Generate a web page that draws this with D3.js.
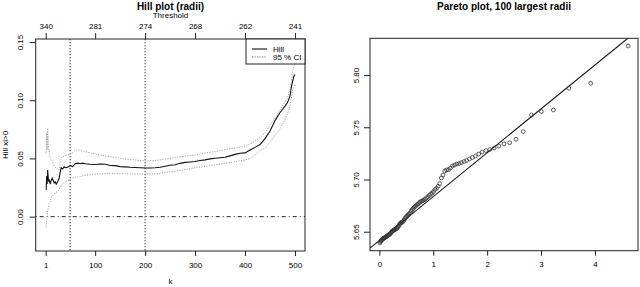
<!DOCTYPE html>
<html>
<head>
<meta charset="utf-8">
<script src="https://cdn.jsdelivr.net/npm/d3@7"></script>
<style>
  body { margin: 0; background: #fff; }
  svg text { font-family: "Liberation Sans", Arial, sans-serif; fill: #000; }
</style>
</head>
<body>
<svg id="chart" width="640" height="287"></svg>
<script>
/* global d3 */

// ---- Hill plot data ----
const hillK = [2, 3, 4, 5, 6, 7, 8, 10, 12, 14, 16, 18, 20, 22, 25, 28, 30, 32, 35, 38, 40,
  45, 50, 55, 60, 65, 70, 75, 80, 90, 100, 110, 120, 130, 140, 150, 160, 170, 180, 190,
  200, 210, 220, 230, 240, 250, 260, 270, 280, 290, 300, 310, 320, 330, 340, 350, 360, 370,
  380, 390, 400, 410, 420, 430, 440, 450, 460, 470, 480, 485, 490, 493, 495, 498, 500];
const hillEst = [0.023, 0.035, 0.028, 0.040, 0.034, 0.030, 0.032,
  0.028, 0.031, 0.033, 0.031, 0.029, 0.030, 0.028,
  0.030, 0.033, 0.038, 0.042, 0.041, 0.043, 0.042,
  0.0425, 0.044, 0.043, 0.0455, 0.046, 0.0455, 0.046, 0.0455,
  0.045, 0.0448, 0.0452, 0.045, 0.044, 0.0438, 0.043, 0.0428, 0.0424, 0.0422,
  0.042, 0.0418, 0.0418, 0.042, 0.0424, 0.0433, 0.0442, 0.0446, 0.0458, 0.0466,
  0.047, 0.0474, 0.0482, 0.0488, 0.0496, 0.0502, 0.0506, 0.051, 0.0522, 0.0535,
  0.0545, 0.0548, 0.0572, 0.0595, 0.062, 0.067, 0.0735, 0.0825, 0.0895, 0.095,
  0.098, 0.104, 0.112, 0.116, 0.121, 0.122];
const ciLower = [-0.0088, -0.002, 0.001, 0.005, 0.008, 0.010, 0.012,
  0.013, 0.016, 0.018, 0.0185, 0.019, 0.0205, 0.021,
  0.0215, 0.0235, 0.025, 0.027, 0.0285, 0.0295, 0.030,
  0.031, 0.0315, 0.033, 0.0338, 0.0342, 0.0345, 0.035, 0.0355,
  0.036, 0.0365, 0.0368, 0.037, 0.0371, 0.0372, 0.037, 0.0368, 0.0367, 0.0366,
  0.0365, 0.0365, 0.0366, 0.0368, 0.0372, 0.038, 0.0385, 0.039, 0.0398, 0.0405,
  0.0412, 0.042, 0.0426, 0.0432, 0.0438, 0.0445, 0.0451, 0.0457, 0.0465, 0.0472,
  0.048, 0.0487, 0.050, 0.053, 0.0565, 0.059, 0.064, 0.070, 0.0755, 0.0835,
  0.0885, 0.0955, 0.103, 0.108, 0.111, 0.113];
const ciUpper = [0.055, 0.072, 0.058, 0.076, 0.066, 0.058, 0.057,
  0.050, 0.049, 0.048, 0.046, 0.0435, 0.0425, 0.0418,
  0.041, 0.040, 0.046, 0.0505, 0.0515, 0.052, 0.0525,
  0.053, 0.0535, 0.055, 0.057, 0.0578, 0.057, 0.0565, 0.0558,
  0.0548, 0.054, 0.053, 0.052, 0.0515, 0.051, 0.050, 0.0495, 0.049, 0.0487,
  0.0482, 0.048, 0.048, 0.0482, 0.0487, 0.0495, 0.0502, 0.0505, 0.0515, 0.052,
  0.0525, 0.053, 0.0538, 0.0545, 0.0552, 0.0559, 0.0567, 0.0575, 0.0583, 0.059,
  0.0598, 0.0607, 0.0625, 0.065, 0.068, 0.072, 0.079, 0.085, 0.092, 0.0985,
  0.103, 0.109, 0.117, 0.1245, 0.129, 0.131];

const kTicks = [1, 100, 200, 300, 400, 500];
const thresholdLabels = ['340', '281', '274', '268', '262', '241'];
const hillYTicks = [0, 0.05, 0.10, 0.15];
const markedK = [50, 200];

// ---- Pareto plot data ----
const paretoX = [0.010, 0.020, 0.030, 0.040, 0.051, 0.061, 0.072, 0.083, 0.093, 0.104,
  0.115, 0.126, 0.138, 0.149, 0.161, 0.172, 0.184, 0.196, 0.208, 0.221,
  0.233, 0.246, 0.258, 0.271, 0.284, 0.298, 0.311, 0.325, 0.338, 0.352,
  0.367, 0.381, 0.396, 0.410, 0.425, 0.441, 0.456, 0.472, 0.488, 0.504,
  0.521, 0.538, 0.555, 0.572, 0.590, 0.608, 0.626, 0.645, 0.664, 0.683,
  0.703, 0.723, 0.744, 0.765, 0.786, 0.808, 0.831, 0.854, 0.877, 0.901,
  0.926, 0.951, 0.977, 1.004, 1.031, 1.060, 1.089, 1.119, 1.149, 1.181,
  1.214, 1.248, 1.283, 1.319, 1.357, 1.396, 1.437, 1.480, 1.524, 1.571,
  1.619, 1.671, 1.725, 1.782, 1.843, 1.907, 1.976, 2.050, 2.130, 2.217,
  2.313, 2.418, 2.536, 2.669, 2.823, 3.006, 3.229, 3.516, 3.922, 4.615];
const paretoY = [5.6392, 5.6405, 5.6412, 5.6420, 5.6425, 5.6429, 5.6433, 5.6438, 5.6441, 5.6445,
  5.6448, 5.6452, 5.6455, 5.6460, 5.6466, 5.6470, 5.6474, 5.6478, 5.6484, 5.6493,
  5.6502, 5.6508, 5.6512, 5.6516, 5.6520, 5.6524, 5.6527, 5.6531, 5.6540, 5.6550,
  5.6562, 5.6577, 5.6583, 5.6588, 5.6592, 5.6598, 5.6610, 5.6624, 5.6636, 5.6645,
  5.6655, 5.6664, 5.6671, 5.6680, 5.6698, 5.6712, 5.6723, 5.6733, 5.6743, 5.6752,
  5.6760, 5.6768, 5.6779, 5.6787, 5.6792, 5.6798, 5.6806, 5.6815, 5.6825, 5.6836,
  5.6848, 5.6859, 5.6870, 5.6885, 5.6905, 5.6916, 5.6935, 5.6961, 5.7014, 5.7043,
  5.7081, 5.7091, 5.7095, 5.7110, 5.7129, 5.7139, 5.7148, 5.7153, 5.7162, 5.7172,
  5.7182, 5.7196, 5.7210, 5.7225, 5.7244, 5.7263, 5.7277, 5.7287, 5.7301, 5.7320,
  5.7340, 5.7352, 5.7385, 5.7459, 5.7617, 5.7651, 5.7665, 5.7873, 5.7921, 5.8278];
const fitIntercept = 5.6416;
const fitSlope = 0.0420;

const paretoXTicks = [0, 1, 2, 3, 4];
const paretoYTicks = [5.65, 5.70, 5.75, 5.80];

const svg = d3.select('#chart');

function rotatedYAxis(g, scale, ticks, fmt, shift) {
  g.call(d3.axisLeft(scale).tickValues(ticks).tickSize(6).tickFormat(fmt));
  g.select('.domain').remove();
  g.selectAll('.tick line').attr('stroke', '#222');
  g.selectAll('.tick text')
    .attr('x', null).attr('dy', null)
    .attr('transform', `translate(${shift},0) rotate(-90)`)
    .attr('text-anchor', 'middle')
    .style('font-size', '8px');
}

// =================== Hill plot ===================
const hx = d3.scaleLinear().domain([-18.96, 519.96]).range([35.7, 305]);
const hy = d3.scaleLinear().domain([-0.0295, 0.1526]).range([251, 39]);

svg.append('clipPath').attr('id', 'hillClip')
  .append('rect').attr('x', 35.7).attr('y', 39).attr('width', 269.3).attr('height', 212);

const hillG = svg.append('g').attr('clip-path', 'url(#hillClip)');

// zero reference line
hillG.append('line')
  .attr('x1', hx.range()[0]).attr('x2', hx.range()[1])
  .attr('y1', hy(0)).attr('y2', hy(0))
  .attr('stroke', '#222').attr('stroke-dasharray', '1,3,4,3');

// marked k
markedK.forEach(function (k) {
  hillG.append('line')
    .attr('x1', hx(k)).attr('x2', hx(k))
    .attr('y1', 39).attr('y2', 251)
    .attr('stroke', '#333').attr('stroke-dasharray', '1.3,1.7');
});

const hillLine = function (vals) {
  return d3.line()
    .x((d, i) => hx(hillK[i]))
    .y((d) => hy(d))(vals);
};

[ciLower, ciUpper].forEach(function (ci) {
  hillG.append('path').attr('d', hillLine(ci))
    .attr('fill', 'none').attr('stroke', '#999')
    .attr('stroke-width', 0.9).attr('stroke-dasharray', '1.2,1.3');
});
hillG.append('path').attr('d', hillLine(hillEst))
  .attr('fill', 'none').attr('stroke', '#111').attr('stroke-width', 1.1);

svg.append('rect')
  .attr('x', 35.7).attr('y', 39).attr('width', 269.3).attr('height', 212)
  .attr('fill', 'none').attr('stroke', '#222');

// bottom axis (k)
const hBottom = svg.append('g').attr('transform', 'translate(0,251)')
  .call(d3.axisBottom(hx).tickValues(kTicks).tickSize(5).tickPadding(6));
hBottom.select('.domain').remove();
hBottom.selectAll('.tick line').attr('stroke', '#222');
hBottom.selectAll('.tick text').style('font-size', '8px');

// top axis (threshold)
const hTop = svg.append('g').attr('transform', 'translate(0,39)')
  .call(d3.axisTop(hx).tickValues(kTicks).tickSize(6).tickPadding(4)
    .tickFormat((d, i) => thresholdLabels[i]));
hTop.select('.domain').remove();
hTop.selectAll('.tick line').attr('stroke', '#222');
hTop.selectAll('.tick text').style('font-size', '8px');

const hLeft = svg.append('g').attr('transform', 'translate(35.7,0)');
rotatedYAxis(hLeft, hy, hillYTicks, d3.format('.2f'), -12.5);

svg.append('text').attr('x', 170.5).attr('y', 9.5)
  .attr('text-anchor', 'middle').style('font-size', '10px').style('font-weight', 'bold')
  .text('Hill plot (radii)');
svg.append('text').attr('x', 170.5).attr('y', 18)
  .attr('text-anchor', 'middle').style('font-size', '8px')
  .text('Threshold');
svg.append('text').attr('x', 170.5).attr('y', 284)
  .attr('text-anchor', 'middle').style('font-size', '8px')
  .text('k');
svg.append('text')
  .attr('transform', 'translate(7.5,145) rotate(-90)')
  .attr('text-anchor', 'middle').style('font-size', '8px')
  .text('Hill xi>0');

// legend
const leg = svg.append('g');
leg.append('rect').attr('x', 246).attr('y', 39).attr('width', 59).attr('height', 25)
  .attr('fill', '#fff').attr('stroke', '#222');
leg.append('line').attr('x1', 252).attr('x2', 267).attr('y1', 49).attr('y2', 49)
  .attr('stroke', '#111').attr('stroke-width', 1.1);
leg.append('line').attr('x1', 252).attr('x2', 267).attr('y1', 57).attr('y2', 57)
  .attr('stroke', '#666').attr('stroke-dasharray', '1.2,1.3');
leg.append('text').attr('x', 273).attr('y', 52).style('font-size', '8px').text('Hill');
leg.append('text').attr('x', 273).attr('y', 60).style('font-size', '8px').text('95 % CI');

// =================== Pareto plot ===================
const px = d3.scaleLinear().domain([-0.174, 4.799]).range([370, 638]);
const py = d3.scaleLinear().domain([5.6318, 5.8352]).range([250.7, 38.3]);

svg.append('clipPath').attr('id', 'parClip')
  .append('rect').attr('x', 370).attr('y', 38.3).attr('width', 268).attr('height', 212.4);

const parG = svg.append('g').attr('clip-path', 'url(#parClip)');
const xd = px.domain();
parG.append('line')
  .attr('x1', px(xd[0])).attr('y1', py(fitIntercept + fitSlope * xd[0]))
  .attr('x2', px(xd[1])).attr('y2', py(fitIntercept + fitSlope * xd[1]))
  .attr('stroke', '#111').attr('stroke-width', 1.1);

parG.selectAll('circle').data(paretoX).enter().append('circle')
  .attr('cx', (d) => px(d))
  .attr('cy', (d, i) => py(paretoY[i]))
  .attr('r', 1.9)
  .attr('fill', 'none').attr('stroke', '#333').attr('stroke-width', 0.8);

svg.append('rect')
  .attr('x', 370).attr('y', 38.3).attr('width', 268).attr('height', 212.4)
  .attr('fill', 'none').attr('stroke', '#222');

const pBottom = svg.append('g').attr('transform', 'translate(0,250.7)')
  .call(d3.axisBottom(px).tickValues(paretoXTicks).tickSize(5).tickPadding(6)
    .tickFormat(d3.format('d')));
pBottom.select('.domain').remove();
pBottom.selectAll('.tick line').attr('stroke', '#222');
pBottom.selectAll('.tick text').style('font-size', '8px');

const pLeft = svg.append('g').attr('transform', 'translate(370,0)');
rotatedYAxis(pLeft, py, paretoYTicks, d3.format('.2f'), -11.5);

svg.append('text').attr('x', 504).attr('y', 9.5)
  .attr('text-anchor', 'middle').style('font-size', '10px').style('font-weight', 'bold')
  .text('Pareto plot, 100 largest radii');
</script>
</body>
</html>
